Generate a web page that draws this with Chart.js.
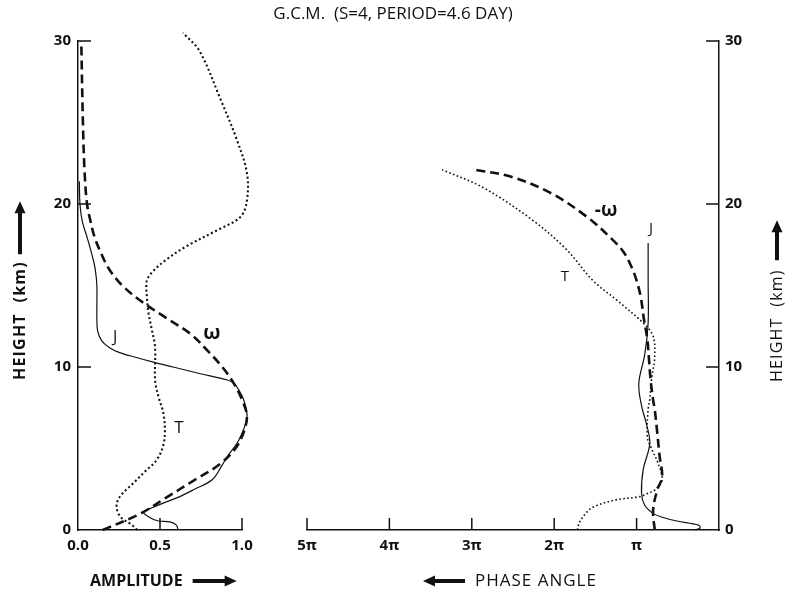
<!DOCTYPE html>
<html>
<head>
<meta charset="utf-8">
<script src="https://cdn.jsdelivr.net/npm/chart.js@4.4.1/dist/chart.umd.min.js"></script>
<style>
  html, body { margin: 0; padding: 0; background: #fff; }
  #wrap { position: relative; width: 786px; height: 594px; }
  #wrap canvas { position: absolute; left: 0; top: 0; }
</style>
</head>
<body>
<div id="wrap">
  <canvas id="amp" width="786" height="594"></canvas>
  <canvas id="phase" width="786" height="594"></canvas>
</div>
<script>
// ---- Amplitude profiles (height in km, normalised amplitude) ----
const ampOmegaHeight = [0, 1, 2, 3, 4, 5, 6, 7, 8, 9, 10, 11, 12, 13, 14, 15, 16, 17, 18, 19, 20, 22, 25, 30];
const ampOmega       = [0.15, 0.38, 0.54, 0.70, 0.86, 0.96, 1.01, 1.03, 1.00, 0.95, 0.88, 0.79, 0.69, 0.54, 0.39, 0.27, 0.19, 0.14, 0.10, 0.075, 0.055, 0.04, 0.03, 0.02];

const ampJHeight = [0, 0.3, 0.5, 0.55, 0.75, 1.1, 1.4, 1.65, 2.0, 2.5, 3.1, 4.0, 4.5, 5.5, 6.9, 8.0, 8.6, 9.0, 9.2, 9.6, 10.0, 10.3, 10.6, 10.9, 11.2, 11.6, 12.2, 13.0, 15.0, 16.0, 16.7, 17.8, 19.0, 20.0, 21.4];
const ampJ       = [0.61, 0.60, 0.56, 0.49, 0.44, 0.40, 0.46, 0.52, 0.61, 0.71, 0.82, 0.88, 0.91, 0.98, 1.03, 1.01, 0.98, 0.95, 0.91, 0.74, 0.58, 0.46, 0.35, 0.25, 0.19, 0.145, 0.12, 0.115, 0.115, 0.105, 0.09, 0.06, 0.025, 0.012, 0.008];

const ampTHeight = [0, 0.3, 0.8, 1.43, 2.04, 2.9, 3.6, 4.3, 5.2, 6.1, 7.2, 8.2, 9.2, 11.2, 12.3, 13.3, 14.3, 15.3, 15.9, 16.6, 17.4, 18.4, 19.2, 20.2, 21.9, 23.9, 26.4, 29.4, 30.5];
const ampT       = [0.36, 0.33, 0.26, 0.235, 0.255, 0.34, 0.41, 0.48, 0.52, 0.53, 0.52, 0.49, 0.47, 0.47, 0.45, 0.43, 0.42, 0.42, 0.46, 0.54, 0.66, 0.85, 0.99, 1.03, 1.03, 0.97, 0.87, 0.74, 0.64];

// ---- Phase profiles (height in km, phase angle in units of pi) ----
const phaseOmegaHeight = [0, 1.2, 2.45, 3.25, 4.5, 6.0, 7.4, 8.0, 9.2, 10.5, 11.7, 12.9, 14.3, 15.3, 16.0, 17.0, 17.8, 19.2, 20.7, 21.7, 22.1];
const phaseOmega       = [0.78, 0.80, 0.75, 0.69, 0.72, 0.75, 0.78, 0.80, 0.83, 0.85, 0.87, 0.91, 0.95, 1.00, 1.05, 1.15, 1.29, 1.60, 2.05, 2.54, 2.96];

const phaseJHeight = [0, 0.12, 0.3, 0.55, 0.8, 1.02, 1.5, 2.25, 3.7, 5.3, 6.5, 7.4, 8.5, 9.2, 10.8, 12.7, 15.3, 17.6];
const phaseJ       = [0.29, 0.23, 0.25, 0.51, 0.70, 0.80, 0.90, 0.94, 0.92, 0.84, 0.88, 0.93, 0.97, 0.97, 0.90, 0.86, 0.86, 0.86];

const phaseTHeight = [0, 0.5, 1.0, 1.4, 1.84, 2.05, 2.25, 2.45, 3.07, 4.1, 5.0, 5.7, 7.4, 8.0, 9.2, 10.6, 11.9, 12.7, 14.1, 15.3, 17.2, 19.0, 21.0, 22.1];
const phaseT       = [1.72, 1.69, 1.62, 1.53, 1.26, 0.96, 0.86, 0.78, 0.69, 0.74, 0.82, 0.87, 0.86, 0.84, 0.82, 0.78, 0.80, 0.92, 1.24, 1.53, 1.85, 2.26, 2.86, 3.36];

// ---- Axis ticks and text ----
const heightTicks = [0, 10, 20, 30];
const ampTicks = [0, 0.5, 1.0];
const phaseTicks = [0, 1, 2, 3, 4, 5];
const TITLE = 'G.C.M.  (S=4, PERIOD=4.6 DAY)';
const AMP_LABEL = 'AMPLITUDE';
const PHASE_LABEL = 'PHASE ANGLE';
const HEIGHT_LABEL = 'HEIGHT  (km)';

// Curve names, anchored in data units of their panel
const ampCurveLabels = [
  { text: 'J', x: 0.226, y: 11.84, weight: 'normal', size: 16 },
  { text: 'T', x: 0.616, y: 6.26, weight: 'normal', size: 17 },
  { text: 'ω', x: 0.817, y: 12.09, weight: 'bold', size: 20 }
];
const phaseCurveLabels = [
  { text: '-ω', x: 1.37, y: 19.57, weight: 'bold', size: 19 },
  { text: 'J', x: 0.825, y: 18.47, weight: 'normal', size: 15 },
  { text: 'T', x: 1.87, y: 15.52, weight: 'normal', size: 15 }
];

const INK = '#111';
const FAMILY = "'Open Sans', 'DejaVu Sans', sans-serif";
Chart.defaults.font.family = FAMILY;
Chart.defaults.color = INK;

function profile(heights, values, style) {
  return Object.assign({
    data: heights.map((h, i) => ({ x: values[i], y: h })),
    showLine: true,
    pointRadius: 0,
    borderColor: INK,
    backgroundColor: INK,
    tension: 0.35,
    clip: false,
    fill: false,
    borderCapStyle: 'butt'
  }, style);
}

const dashStyle = { borderWidth: 2.6, borderDash: [9, 5] };
const solidStyle = { borderWidth: 1.2, borderDash: [] };
const dotStyleAmp = { borderWidth: 2.1, borderDash: [2, 2.6] };
const dotStylePhase = { borderWidth: 1.6, borderDash: [1.6, 2.4] };

// Tick marks pointing into the plotting area
const inwardTicks = {
  id: 'inwardTicks',
  afterDatasetsDraw(chart) {
    const { ctx, chartArea: a } = chart;
    ctx.save();
    ctx.strokeStyle = INK;
    ctx.lineWidth = 1.5;
    ctx.setLineDash([]);
    Object.values(chart.scales).forEach(scale => {
      scale.ticks.forEach(t => {
        if (t.value === 0) return;
        const p = scale.getPixelForValue(t.value);
        ctx.beginPath();
        if (scale.isHorizontal()) {
          ctx.moveTo(p, a.bottom); ctx.lineTo(p, a.bottom - 12);
        } else if (scale.position === 'left') {
          ctx.moveTo(a.left, p); ctx.lineTo(a.left + 13, p);
        } else {
          ctx.moveTo(a.right, p); ctx.lineTo(a.right - 13, p);
        }
        ctx.stroke();
      });
    });
    ctx.restore();
  }
};

function arrow(ctx, x0, y0, x1, y1) {
  const len = Math.hypot(x1 - x0, y1 - y0);
  const ang = Math.atan2(y1 - y0, x1 - x0);
  const head = 12, half = 5.5, shaft = 2;
  ctx.save();
  ctx.translate(x0, y0);
  ctx.rotate(ang);
  ctx.beginPath();
  ctx.moveTo(0, -shaft);
  ctx.lineTo(len - head, -shaft);
  ctx.lineTo(len - head, -half);
  ctx.lineTo(len, 0);
  ctx.lineTo(len - head, half);
  ctx.lineTo(len - head, shaft);
  ctx.lineTo(0, shaft);
  ctx.closePath();
  ctx.fill();
  ctx.restore();
}

function drawCurveLabels(chart, labels) {
  const { ctx } = chart;
  const xs = chart.scales.x, ys = chart.scales.y;
  ctx.save();
  ctx.fillStyle = INK;
  ctx.textAlign = 'center';
  ctx.textBaseline = 'middle';
  labels.forEach(l => {
    ctx.font = `${l.weight} ${l.size}px ${FAMILY}`;
    ctx.fillText(l.text, xs.getPixelForValue(l.x), ys.getPixelForValue(l.y));
  });
  ctx.restore();
}

function drawHeightCaption(ctx, x, yStart, weight, arrowGap, arrowLen) {
  ctx.save();
  ctx.translate(x, yStart);
  ctx.rotate(-Math.PI / 2);
  ctx.font = `${weight} 16px ${FAMILY}`;
  ctx.letterSpacing = '1.2px';
  ctx.textAlign = 'left';
  ctx.textBaseline = 'middle';
  ctx.fillText(HEIGHT_LABEL, 0, 0);
  const w = ctx.measureText(HEIGHT_LABEL).width;
  arrow(ctx, w + arrowGap, 0, w + arrowGap + arrowLen, 0);
  ctx.restore();
}

const ampCaptions = {
  id: 'ampCaptions',
  afterDraw(chart) {
    const { ctx, chartArea: a } = chart;
    ctx.save();
    ctx.fillStyle = INK;
    ctx.font = `500 17px ${FAMILY}`;
    ctx.textAlign = 'center';
    ctx.textBaseline = 'middle';
    ctx.fillText(TITLE, chart.width / 2, 14);

    ctx.font = `bold 16px ${FAMILY}`;
    ctx.textAlign = 'left';
    const x0 = a.left + 12, y0 = a.bottom + 51;
    ctx.fillText(AMP_LABEL, x0, y0);
    const w = ctx.measureText(AMP_LABEL).width;
    arrow(ctx, x0 + w + 10, y0, x0 + w + 54, y0);

    drawHeightCaption(ctx, 20, a.bottom - 150, 'bold', 7, 53);
    ctx.restore();
    drawCurveLabels(chart, ampCurveLabels);
  }
};

const phaseCaptions = {
  id: 'phaseCaptions',
  afterDraw(chart) {
    const { ctx, chartArea: a } = chart;
    ctx.save();
    ctx.fillStyle = INK;
    ctx.font = `normal 17px ${FAMILY}`;
    ctx.letterSpacing = '1px';
    ctx.textAlign = 'left';
    ctx.textBaseline = 'middle';
    const x0 = a.left + 168, y0 = a.bottom + 51;
    ctx.fillText(PHASE_LABEL, x0, y0);
    ctx.letterSpacing = '0px';
    arrow(ctx, x0 - 10, y0, x0 - 52, y0);

    drawHeightCaption(ctx, 777, a.bottom - 148, 'normal', 9, 40);
    ctx.restore();
    drawCurveLabels(chart, phaseCurveLabels);
  }
};

const tickFont = { family: FAMILY, size: 15, weight: 'bold' };
const axisBorder = { display: true, color: INK, width: 1.5 };
const noGrid = { display: false, drawTicks: false };

function heightAxis(position, width, pad) {
  return {
    type: 'linear', position, min: 0, max: 30,
    afterBuildTicks(s) { s.ticks = heightTicks.map(v => ({ value: v })); },
    ticks: { font: tickFont, color: INK, padding: pad, callback: v => String(v) },
    grid: noGrid, border: axisBorder,
    afterFit(s) { s.width = width; }
  };
}

new Chart(document.getElementById('amp'), {
  type: 'scatter',
  data: {
    datasets: [
      profile(ampOmegaHeight, ampOmega, dashStyle),
      profile(ampJHeight, ampJ, solidStyle),
      profile(ampTHeight, ampT, dotStyleAmp)
    ]
  },
  options: {
    responsive: false, animation: false, events: [],
    layout: { padding: { top: 41, right: 544, left: 0, bottom: 0 } },
    plugins: { legend: { display: false }, tooltip: { enabled: false } },
    scales: {
      x: {
        type: 'linear', min: 0, max: 1,
        afterBuildTicks(s) { s.ticks = ampTicks.map(v => ({ value: v })); },
        ticks: { font: tickFont, color: INK, padding: 7, maxRotation: 0, callback: v => Number(v).toFixed(1) },
        grid: noGrid, border: axisBorder,
        afterFit(s) { s.height = 64; }
      },
      y: heightAxis('left', 78, 7)
    }
  },
  plugins: [inwardTicks, ampCaptions]
});

new Chart(document.getElementById('phase'), {
  type: 'scatter',
  data: {
    datasets: [
      profile(phaseOmegaHeight, phaseOmega, dashStyle),
      profile(phaseJHeight, phaseJ, solidStyle),
      profile(phaseTHeight, phaseT, dotStylePhase)
    ]
  },
  options: {
    responsive: false, animation: false, events: [],
    layout: { padding: { top: 41, left: 307, right: 0, bottom: 0 } },
    plugins: { legend: { display: false }, tooltip: { enabled: false } },
    scales: {
      x: {
        type: 'linear', min: 0, max: 5, reverse: true,
        afterBuildTicks(s) { s.ticks = phaseTicks.map(v => ({ value: v })); },
        ticks: { font: tickFont, color: INK, padding: 7, maxRotation: 0,
                 callback: v => v === 0 ? '' : (v === 1 ? 'π' : v + 'π') },
        grid: noGrid, border: axisBorder,
        afterFit(s) { s.height = 64; }
      },
      y: heightAxis('right', 67, 6)
    }
  },
  plugins: [inwardTicks, phaseCaptions]
});
</script>
</body>
</html>
